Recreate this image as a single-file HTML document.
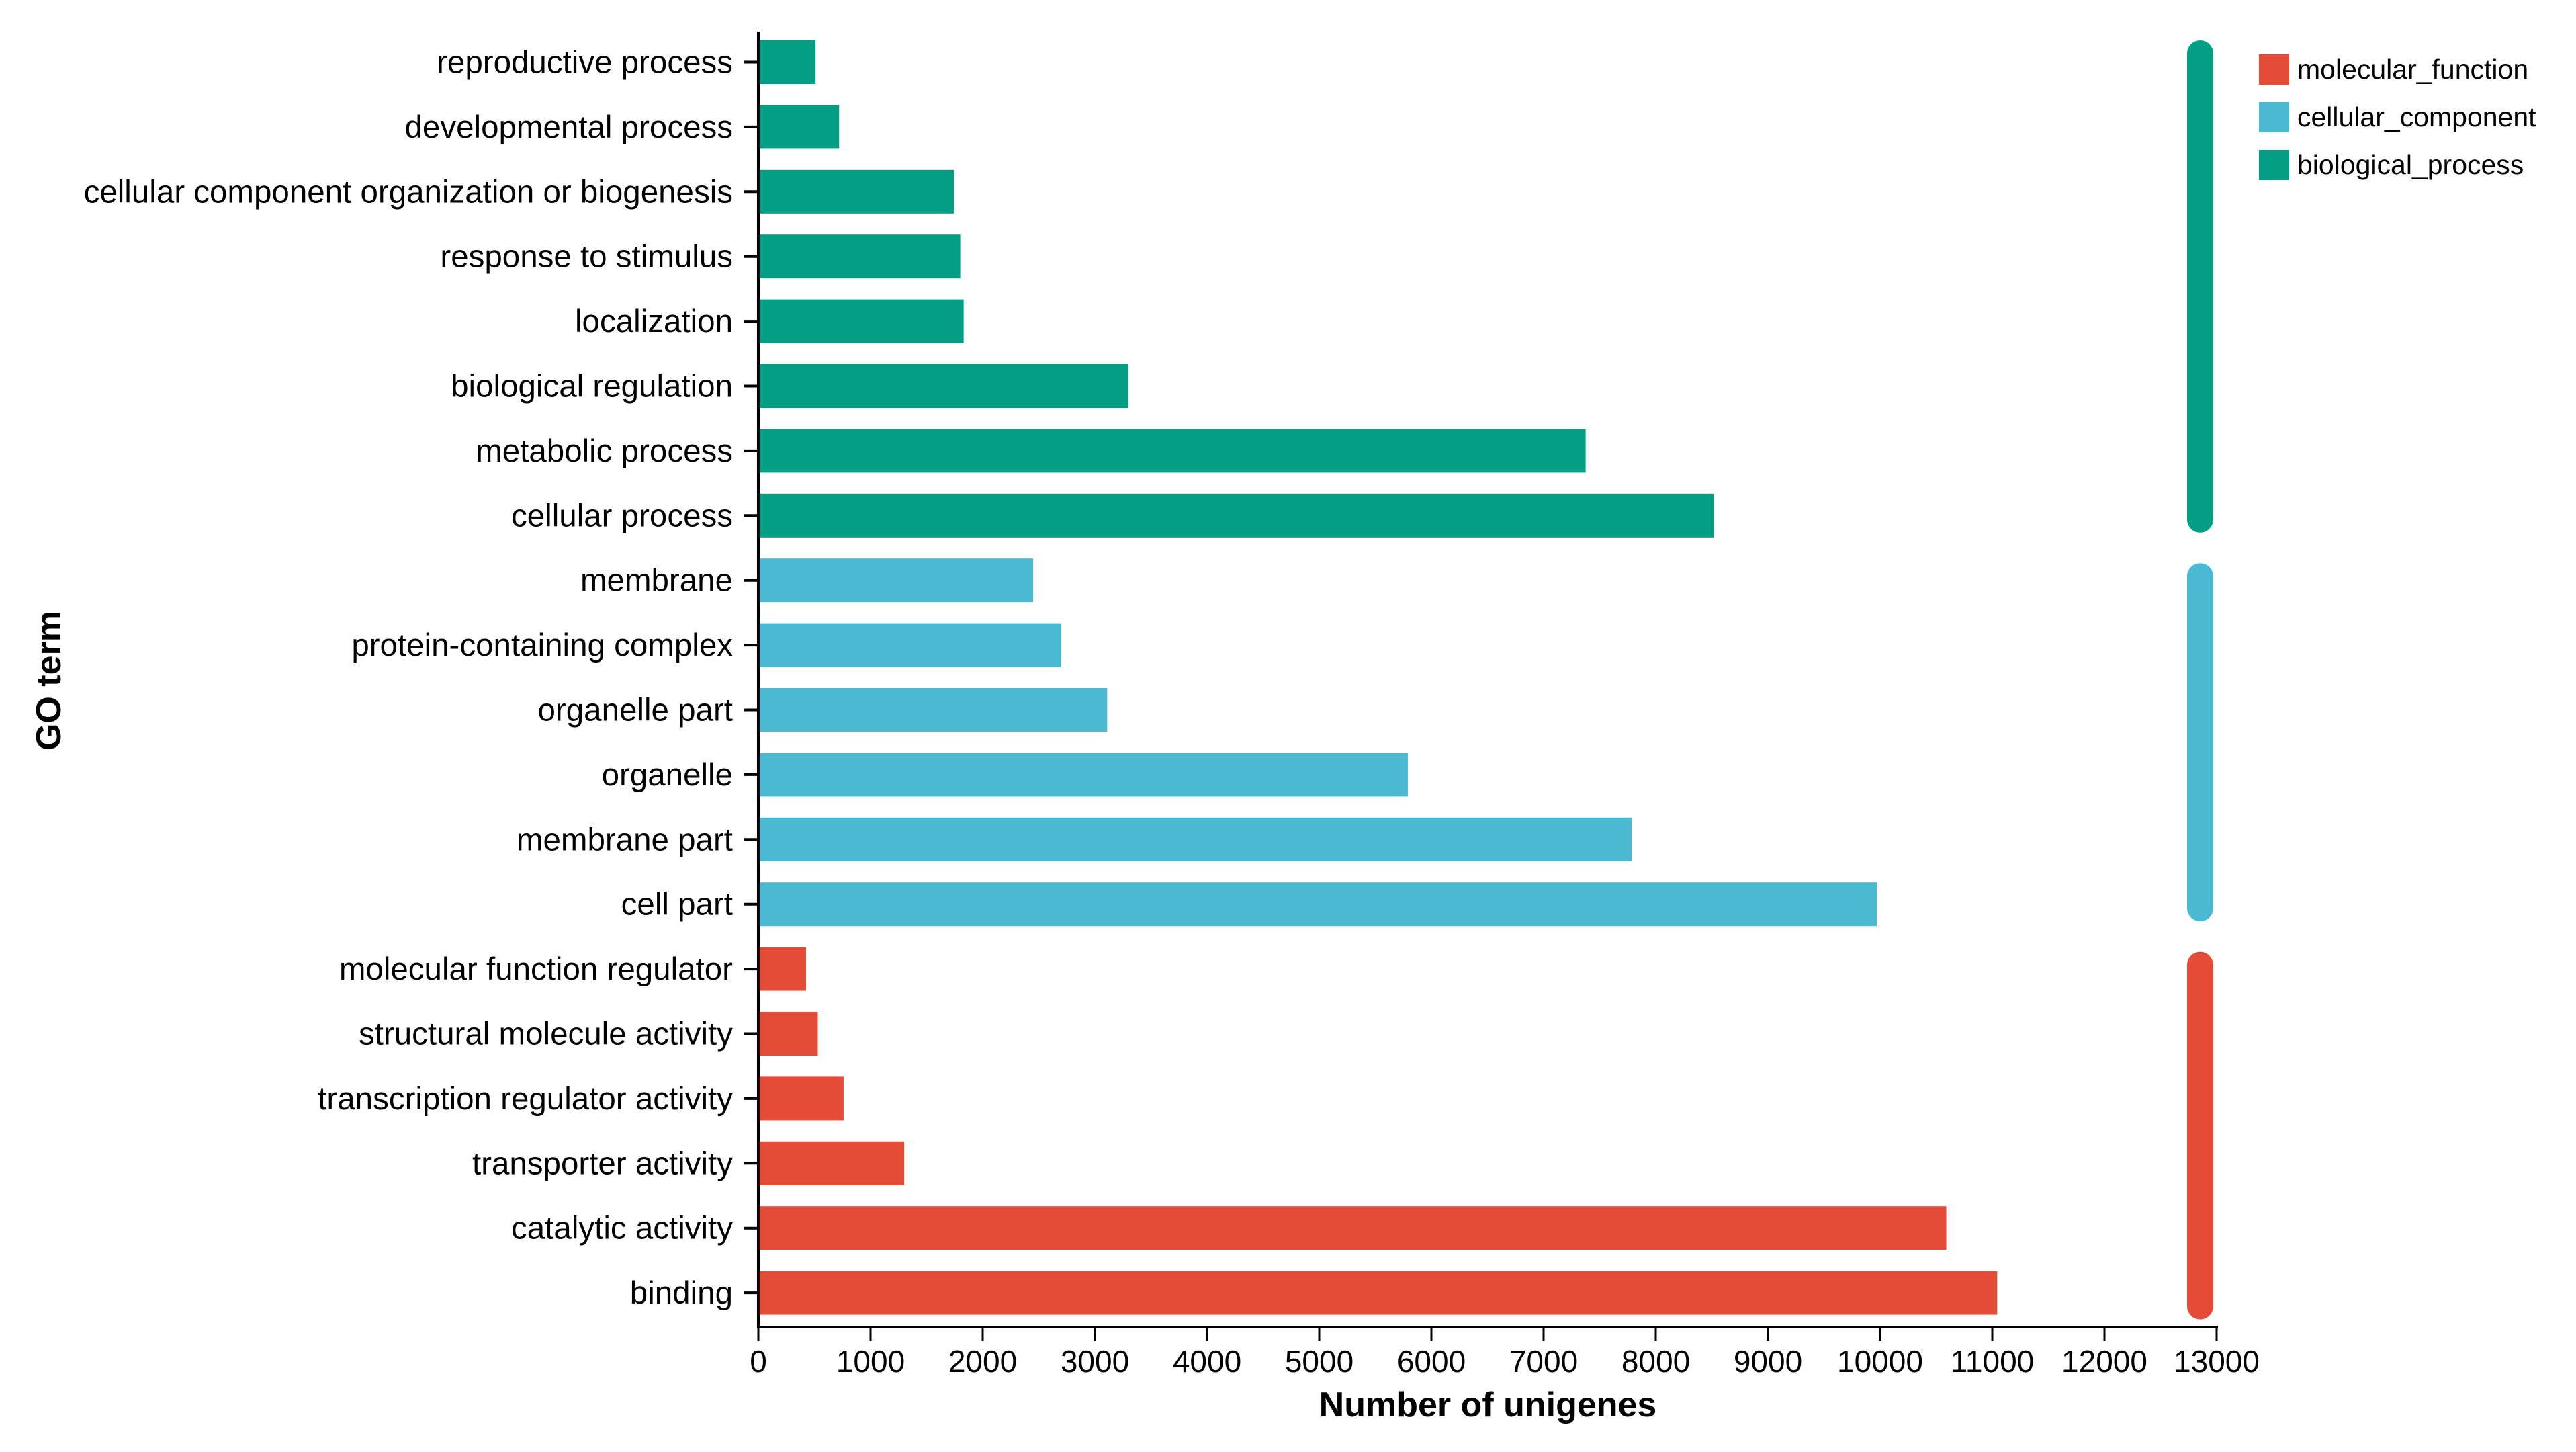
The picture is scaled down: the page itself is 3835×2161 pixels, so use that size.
<!DOCTYPE html>
<html><head><meta charset="utf-8">
<style>
html,body{margin:0;padding:0;background:#fff;}
svg{display:block;font-family:"Liberation Sans",Arial,sans-serif;}
</style></head>
<body>
<svg id="chart" width="3835" height="2161" viewBox="0 0 3835 2161" xmlns="http://www.w3.org/2000/svg"></svg>
<script>
const categories = ["reproductive process","developmental process","cellular component organization or biogenesis","response to stimulus","localization","biological regulation","metabolic process","cellular process","membrane","protein-containing complex","organelle part","organelle","membrane part","cell part","molecular function regulator","structural molecule activity","transcription regulator activity","transporter activity","catalytic activity","binding"];
const values = [510,720,1745,1800,1830,3300,7375,8520,2450,2700,3110,5790,7785,9970,425,530,760,1300,10590,11044];
const groups = ["biological_process","biological_process","biological_process","biological_process","biological_process","biological_process","biological_process","biological_process","cellular_component","cellular_component","cellular_component","cellular_component","cellular_component","cellular_component","molecular_function","molecular_function","molecular_function","molecular_function","molecular_function","molecular_function"];
const legendNames = ["molecular_function","cellular_component","biological_process"];
const xTicks = [0,1000,2000,3000,4000,5000,6000,7000,8000,9000,10000,11000,12000,13000];

const colors = {molecular_function:"#E54C37", cellular_component:"#4CB9D3", biological_process:"#039E84"};
const NS = "http://www.w3.org/2000/svg";
const svg = document.getElementById("chart");
const X0 = 1129, X1 = 3300, XMAX = 13000;
const Y0 = 92.5, PITCH = 96.4, BH = 65, AXY = 1975;
const xs = v => X0 + (v / XMAX) * (X1 - X0);
const yc = i => Y0 + i * PITCH;
function mk(tag, attrs, parent) {
  const e = document.createElementNS(NS, tag);
  for (const k in attrs) e.setAttribute(k, attrs[k]);
  (parent || svg).appendChild(e);
  return e;
}

categories.forEach((c, i) => {
  const r = mk("rect", {x: xs(0), y: yc(i) - BH / 2, width: xs(values[i]) - xs(0), height: BH, fill: colors[groups[i]]});
  
  
  const t = mk("line", {x1: X0 - 21, x2: X0, y1: yc(i), y2: yc(i), stroke: "#000", "stroke-width": 4});
  
  
  const l = mk("text", {x: X0 - 38, y: yc(i) + 16, "text-anchor": "end", "font-size": 47.5, fill: "#000"});
  l.textContent = c;
  
  
});

const ya = mk("line", {x1: X0, x2: X0, y1: 47, y2: AXY + 2, stroke: "#000", "stroke-width": 4});


const xa = mk("line", {x1: X0 - 2, x2: X1 + 2, y1: AXY, y2: AXY, stroke: "#000", "stroke-width": 4});


xTicks.forEach(v => {
  const t = mk("line", {x1: xs(v), x2: xs(v), y1: AXY, y2: AXY + 21, stroke: "#000", "stroke-width": 3});
  
  
  const l = mk("text", {x: xs(v), y: 2042, "text-anchor": "middle", "font-size": 46, fill: "#000"});
  l.textContent = v;
  
  
});
const xt = mk("text", {x: 2215, y: 2108, "text-anchor": "middle", "font-size": 52, "font-weight": "bold", fill: "#000"});
xt.textContent = "Number of unigenes";


const yt = mk("text", {x: 0, y: 0, "text-anchor": "middle", "font-size": 52, "font-weight": "bold", fill: "#000", transform: "translate(90,1013) rotate(-90)"});
yt.textContent = "GO term";



const gNames = [...new Set(groups)];
gNames.forEach(g => {
  const first = groups.indexOf(g), last = groups.lastIndexOf(g);
  const top = yc(first) - BH / 2 + (first > 0 ? 7 : 0);
  const bot = yc(last) + BH / 2 + (last < groups.length - 1 ? -7 : 7);
  const r = mk("rect", {x: 3256, y: top, width: 39, height: bot - top, rx: 19.5, ry: 19.5, fill: colors[g]});
  
  
});

legendNames.forEach((g, i) => {
  const s = mk("rect", {x: 3363, y: 81 + i * 71, width: 45, height: 45, fill: colors[g]});
  
  
  const t = mk("text", {x: 3420, y: 117 + i * 71, "font-size": 41, fill: "#000"});
  t.textContent = g;
  
  
});
</script>
</body></html>
